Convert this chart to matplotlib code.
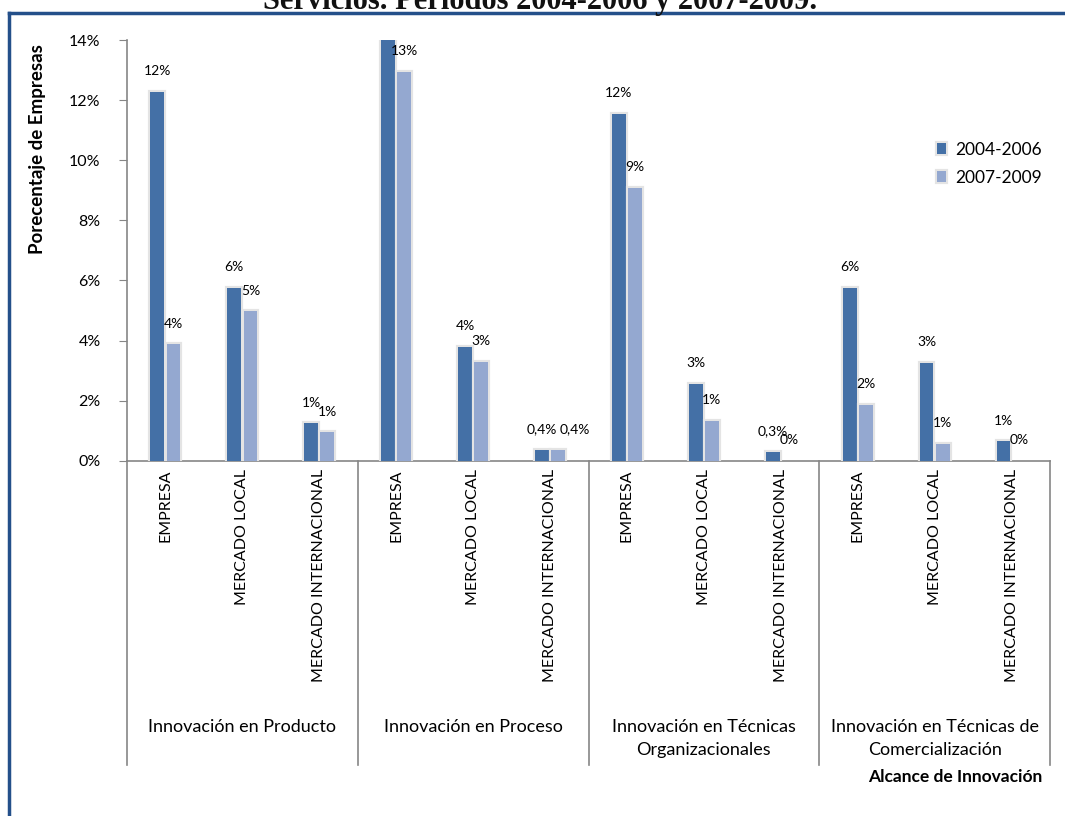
import matplotlib
matplotlib.use("Agg")
import matplotlib.pyplot as plt
import matplotlib.patheffects as pe
from matplotlib.transforms import blended_transform_factory
from matplotlib.lines import Line2D
import numpy as np

plt.rcParams['font.family'] = ['Lato', 'DejaVu Sans']

groups = ["Innovación en Producto", "Innovación en Proceso",
          "Innovación en Técnicas\nOrganizacionales",
          "Innovación en Técnicas de\nComercialización"]
scopes = ["EMPRESA", "MERCADO LOCAL", "MERCADO INTERNACIONAL"]
series_names = ["2004-2006", "2007-2009"]

# percentage of firms, one value per (group, scope)
p2004_2006 = [12.27, 5.74, 1.24,
              14.00, 3.78, 0.36,
              11.53, 2.56, 0.28,
              5.74, 3.26, 0.64]
p2007_2009 = [3.87, 4.97, 0.94,
              12.94, 3.28, 0.36,
              9.07, 1.33, 0.00,
              1.86, 0.56, 0.00]

y_ticks = [0, 2, 4, 6, 8, 10, 12, 14]

dark = "#4470A6"
light = "#94A8D0"
axis_grey = "#868686"


def pct_label(v):
    if 0 < v < 0.5:
        return f"{v:.1f}".replace(".", ",") + "%"
    return f"{v:.0f}%"


W, H = 1065, 816
fig = plt.figure(figsize=(W / 100, H / 100), dpi=100)
ax = fig.add_axes([127 / W, 1 - 460.7 / H, (1050 - 127) / W, (460.7 - 40) / H])

n = len(p2004_2006)
x = np.arange(n)
bw = 0.18
off = 0.105
glow = [pe.Stroke(linewidth=3, foreground="#e4e4e4"), pe.Normal()]
b1 = ax.bar(x - off, p2004_2006, bw, color=dark, label=series_names[0], zorder=3)
b2 = ax.bar(x + off, p2007_2009, bw, color=light, label=series_names[1], zorder=3)
for cont in (b1, b2):
    for patch in cont:
        if patch.get_height() > 0:
            patch.set_path_effects(glow)

ax.set_xlim(-0.5, n - 0.5)
ax.set_ylim(0, 14)
ax.set_yticks(y_ticks)
ax.set_yticklabels([f"{t}%" for t in y_ticks], fontsize=11.5)
ax.tick_params(axis="y", direction="out", length=6, color=axis_grey, pad=13)
ax.set_xticks([])
for s in ("top", "right"):
    ax.spines[s].set_visible(False)
for s in ("left", "bottom"):
    ax.spines[s].set_color(axis_grey)
    ax.spines[s].set_linewidth(1.2)

# value labels above each bar
for i, (v1, v2) in enumerate(zip(p2004_2006, p2007_2009)):
    ax.annotate(pct_label(v1), (x[i] - off, v1), xytext=(0, 15),
                textcoords="offset points", ha="center", va="center",
                fontsize=10, clip_on=True, annotation_clip=True)
    dx = 12 if (0 < v1 < 0.5 and 0 < v2 < 0.5) else 0
    ax.annotate(pct_label(v2), (x[i] + off, v2), xytext=(dx, 15),
                textcoords="offset points", ha="center", va="center",
                fontsize=10, clip_on=True)

# category and group labels beneath the axis
tf = blended_transform_factory(ax.transData, fig.transFigure)
for i in range(n):
    ax.text(x[i], 1 - 469 / H, scopes[i % 3], transform=tf, rotation=90,
            ha="center", va="top", fontsize=11.5)
for g, name in enumerate(groups):
    ax.text(3 * g + 1, 1 - 719 / H, name, transform=tf, ha="center",
            va="top", fontsize=13, linespacing=1.55)
for b in np.arange(-0.5, n, 3):
    ax.add_line(Line2D([b, b], [1 - 460.7 / H, 1 - 765 / H], transform=tf,
                       color=axis_grey, lw=1.2, clip_on=False))

fig.text(38 / W, 1 - 149 / H, "Porecentaje de Empresas", rotation=90,
         ha="center", va="center", fontsize=13.5, fontweight="bold")
fig.text(1042 / W, 1 - 777 / H, "Alcance de Innovación", ha="right",
         va="center", fontsize=12.5, fontweight="bold")

ax.legend(handles=[b1, b2], loc="upper left",
          bbox_to_anchor=(928 / W, 1 - 133 / H), bbox_transform=fig.transFigure,
          frameon=False, fontsize=12.5, handlelength=0.55, handleheight=0.55,
          handletextpad=0.5, labelspacing=0.7, borderpad=0)

# clipped heading and page frame
fig.text(540 / W, 1 - 8.5 / H, "Servicios. Periodos 2004-2006 y 2007-2009.",
         ha="center", va="baseline", fontsize=22, fontweight="bold",
         family="Liberation Serif", color="#111111")
frame = "#24508A"
fig.add_artist(Line2D([9 / W, 9 / W], [0, 1 - 13 / H], transform=fig.transFigure,
                      color=frame, lw=2.5))
fig.add_artist(Line2D([9 / W, 1], [1 - 13 / H, 1 - 13 / H], transform=fig.transFigure,
                      color=frame, lw=2.5))

fig.savefig("out.png", dpi=100)
